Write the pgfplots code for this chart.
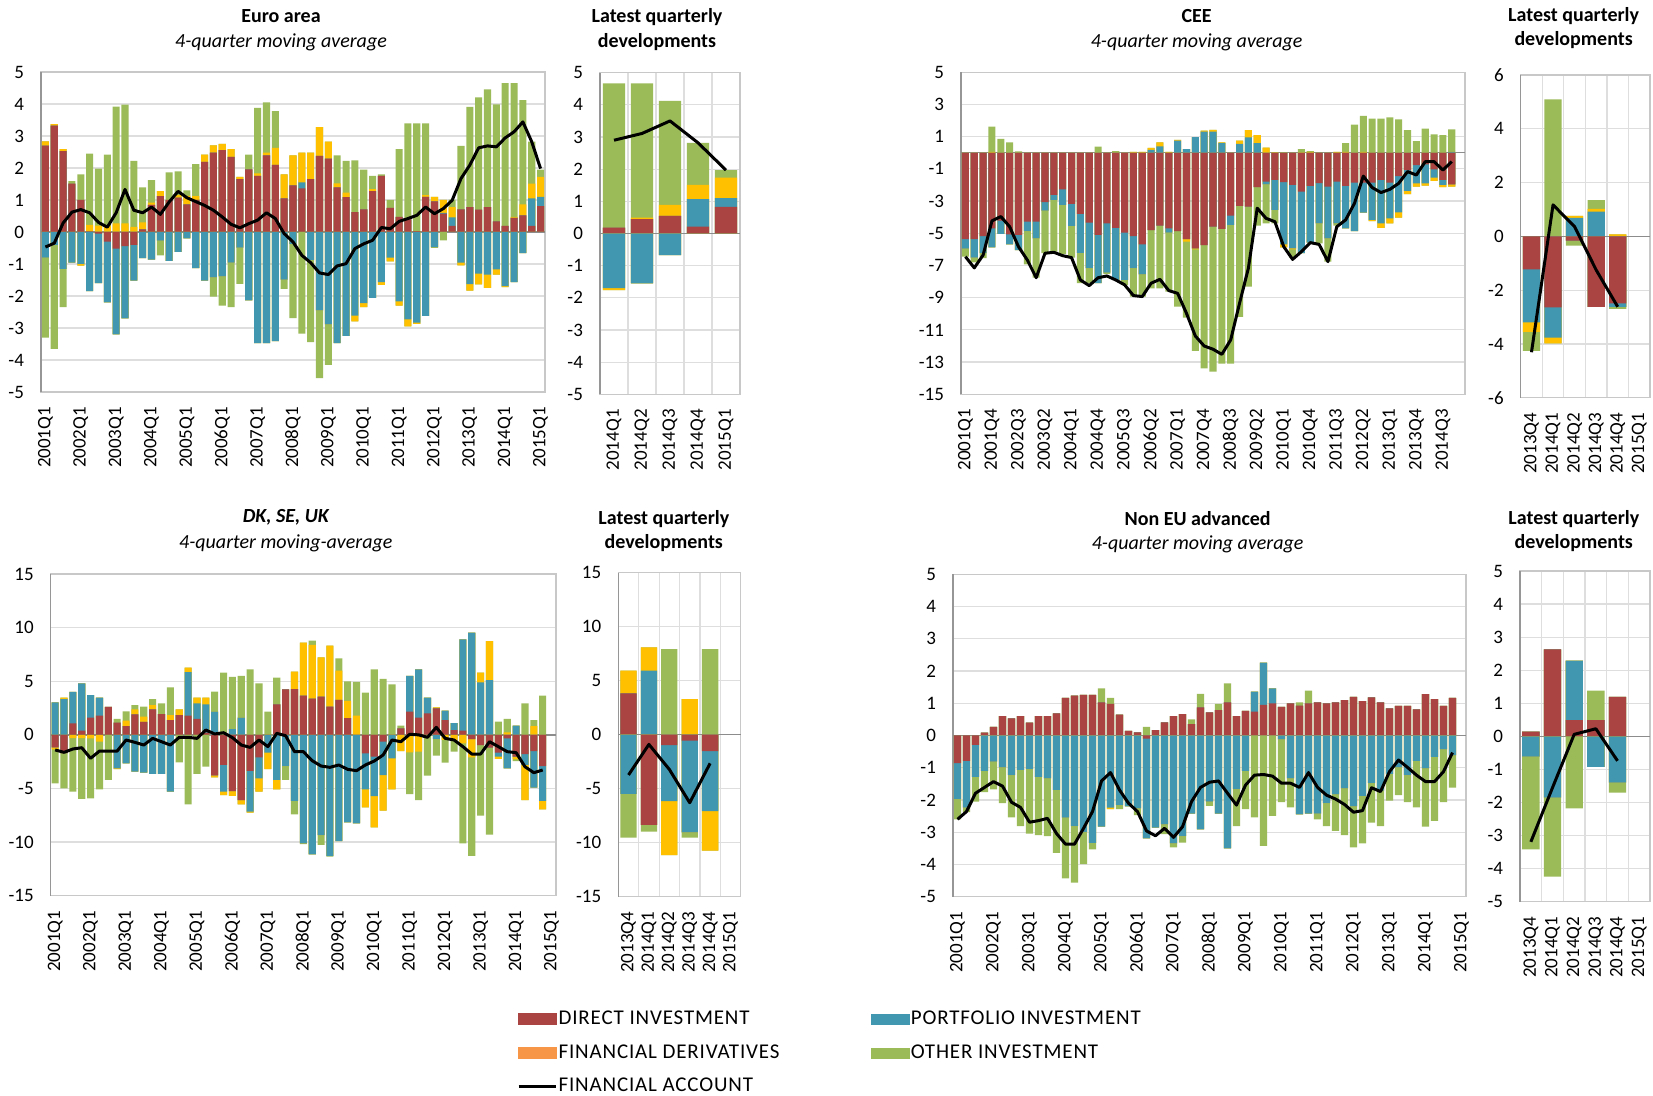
\documentclass[border=0pt]{standalone}
\usepackage{fontspec}
\setmainfont{Carlito}
\usepackage{pgfplots}
\usepackage{pgfplotstable}
\pgfplotsset{compat=1.18}

\definecolor{cDI}{RGB}{169,68,66}
\definecolor{cPI}{RGB}{66,151,176}
\definecolor{cFD}{RGB}{255,192,0}
\definecolor{cFDleg}{RGB}{247,150,70}
\definecolor{cOI}{RGB}{155,187,89}
\definecolor{cgrid}{RGB}{222,222,222}
\definecolor{caxis}{RGB}{200,200,200}
\definecolor{cleft}{RGB}{150,150,150}
\definecolor{czero}{RGB}{140,140,140}

% x DI PI FD OI FA
\pgfplotstableread{
x DI PI FD OI FA
0 2.70 -0.80 0.13 -2.50 -0.47
1 3.32 -0.40 0.05 -3.25 -0.35
2 2.53 -1.15 0.06 -1.20 0.28
3 1.51 -0.96 0 0.08 0.62
4 1.00 -1.00 -0.05 0.80 0.70
5 0.02 -1.85 0.20 2.23 0.60
6 -0.05 -1.55 0.20 1.78 0.30
7 -0.30 -1.90 0.20 2.22 0.15
8 -0.52 -2.68 0.27 3.65 0.60
9 -0.44 -2.26 0.27 3.71 1.33
10 -0.40 -1.12 0.16 2.06 0.68
11 0.08 -0.82 0.22 1.09 0.60
12 0.85 -0.86 0.07 0.70 0.78
13 1.12 -0.27 0.16 -0.46 0.55
14 1.00 -0.90 0 0.86 0.94
15 1.07 -0.62 0.08 0.74 1.27
16 0.86 -0.20 0.27 0.17 1.07
17 1.00 -1.13 0.12 1.00 0.95
18 2.19 -1.52 0.23 0 0.83
19 2.48 -1.42 0.23 -0.60 0.68
20 2.56 -1.39 0.19 -0.91 0.47
21 2.35 -0.96 0.24 -1.39 0.24
22 1.65 -0.49 0.07 -1.13 0.13
23 1.96 -2.14 0 0.46 0.26
24 1.75 -3.47 0.08 2.05 0.37
25 2.39 -3.47 0.09 1.57 0.60
26 2.10 -3.41 0.53 1.15 0.42
27 1.05 -1.49 0.75 -0.29 -0.05
28 1.46 -0.37 0.93 -2.32 -0.31
29 1.36 0.19 0.93 -3.18 -0.73
30 1.65 -0.87 0.83 -2.57 -0.96
31 2.38 -2.45 0.90 -2.12 -1.28
32 2.29 -2.89 0.53 -1.26 -1.33
33 1.39 -3.47 0.13 0.87 -1.06
34 1.09 -3.25 0.14 0.99 -0.99
35 0.62 -2.61 -0.18 1.62 -0.52
36 0.71 -2.22 -0.13 1.24 -0.37
37 1.28 -2.06 0.06 0.41 -0.26
38 1.75 -1.57 -0.08 0.05 0.14
39 0.75 -0.80 -0.12 0.25 0.10
40 0.47 -2.17 -0.13 2.12 0.33
41 0.39 -2.73 -0.22 3.00 0.42
42 0.03 -2.83 -0.04 3.36 0.52
43 1.10 -2.62 0.05 2.24 0.78
44 0.96 -0.47 0.14 -0.03 0.57
45 0.57 0.03 0.40 -0.26 0.73
46 0.19 0.27 0.32 0.23 0.99
47 0.71 -0.96 -0.08 1.98 1.67
48 0.78 -1.63 -0.20 3.13 2.09
49 0.70 -1.30 -0.34 3.51 2.63
50 0.78 -1.33 -0.42 3.68 2.69
51 0.33 -1.17 -0.16 3.66 2.66
52 0.19 -1.69 -0.03 4.46 2.94
53 0.44 -1.57 0.03 4.18 3.13
54 0.52 -0.66 0.34 3.26 3.44
55 0.19 0.86 0.46 1.31 2.82
56 0.81 0.29 0.62 0.23 1.98
}\euro

\pgfplotstableread{
x DI PI FD OI FA
0 0.18 -1.70 -0.06 4.49 2.90
1 0.45 -1.55 0.04 4.18 3.11
2 0.55 -0.67 0.34 3.23 3.50
3 0.21 0.86 0.44 1.31 2.82
4 0.83 0.27 0.64 0.23 1.97
}\eurolast

\pgfplotstableread{
x DI PI FD OI FA
0 -5.37 -0.58 0 -0.50 -6.45
1 -5.37 -1.14 0 -0.30 -7.15
2 -5.17 -1.07 0 -0.31 -6.35
3 -4.69 -1.18 0.05 1.57 -4.23
4 -4.21 -0.83 0 0.86 -3.96
5 -5.07 -0.62 0 0.65 -4.59
6 -5.10 -0.94 0 0.08 -5.83
7 -4.28 -0.58 0 -2.07 -6.66
8 -4.28 -1.03 0 -2.45 -7.76
9 -3.07 -0.52 0 -2.65 -6.24
10 -2.62 -0.31 0 -3.21 -6.18
11 -2.27 -0.97 0 -3.04 -6.39
12 -3.18 -1.36 0 -1.97 -6.51
13 -3.80 -2.42 0 -1.88 -7.90
14 -4.34 -2.83 0 -0.93 -8.25
15 -5.10 -3.00 0 0.38 -7.76
16 -4.38 -3.06 0 -0.08 -7.65
17 -4.66 -3.24 0 0.10 -7.90
18 -4.96 -2.94 0 -0.30 -8.20
19 -5.17 -2.00 0.05 -1.76 -8.87
20 -5.69 -1.86 0.05 -1.38 -8.93
21 -4.80 0.18 0.12 -3.62 -8.10
22 -4.52 0.40 0.25 -3.90 -7.86
23 -4.69 -0.27 0.05 -3.66 -8.56
24 -4.86 0.75 0.05 -4.69 -8.73
25 -5.37 0.22 -0.15 -4.72 -9.97
26 -5.93 0.98 -0.07 -6.30 -11.38
27 -5.73 1.32 0.06 -7.66 -12.00
28 -4.59 1.32 0.10 -9.00 -12.20
29 -4.73 0.60 0.05 -8.37 -12.52
30 -3.90 -0.58 0 -8.62 -11.62
31 -3.30 0.55 0.20 -6.89 -9.35
32 -3.34 0.95 0.45 -4.97 -7.17
33 -2.14 0.60 0.50 -2.38 -3.44
34 -1.79 -0.17 0.32 -2.42 -4.07
35 -1.69 -1.86 0.03 -0.83 -4.28
36 -1.83 -3.86 -0.18 0.03 -5.83
37 -2.00 -3.93 -0.07 -0.51 -6.62
38 -2.41 -3.83 0.03 0.20 -6.14
39 -2.06 -3.52 0.05 0.05 -5.58
40 -1.89 -2.49 0 -1.24 -5.69
41 -2.10 -3.21 0 -1.45 -6.76
42 -1.79 -2.59 0.05 -0.14 -4.59
43 -2.06 -2.63 0.05 0.55 -4.17
44 -1.85 -3.01 0 1.75 -3.14
45 -1.85 -1.87 0.05 2.25 -1.45
46 -1.85 -2.32 -0.07 2.12 -2.16
47 -1.69 -2.69 -0.28 2.12 -2.47
48 -1.85 -2.22 -0.31 2.20 -2.27
49 -1.45 -2.25 -0.33 2.08 -1.90
50 -1.07 -1.30 -0.19 1.40 -1.17
51 -0.76 -1.14 -0.20 0.73 -1.38
52 -0.72 -1.18 -0.14 1.50 -0.55
53 -1.03 -0.51 -0.21 1.15 -0.55
54 -1.69 -0.31 -0.14 1.10 -1.07
55 -1.96 0.05 -0.14 1.40 -0.55
}\cee

\pgfplotstableread{
x DI PI FD OI FA
0 -1.23 -1.97 -0.35 -0.71 -4.31
1 -2.64 -1.13 -0.21 5.09 1.17
2 -0.16 0.69 0.07 -0.19 0.36
3 -2.62 0.92 0.10 0.33 -1.25
4 -2.49 -0.13 0.07 -0.08 -2.62
}\ceelast

\pgfplotstableread{
x DI PI FD OI FA
0 -1.17 3.03 -0.18 -3.17 -1.41
1 -1.70 3.34 0.13 -3.30 -1.63
2 1.07 2.94 -0.30 -5.00 -1.32
3 0.39 4.41 -0.30 -5.68 -1.20
4 1.60 2.11 -0.33 -5.59 -2.19
5 1.79 1.68 -0.64 -4.44 -1.51
6 2.60 0 0 -4.21 -1.51
7 1.13 -3.12 -0.08 0.35 -1.51
8 0.82 -2.66 0.50 0.87 -0.48
9 1.91 -3.43 0.47 0.40 -0.70
10 1.20 -3.53 0.49 0.93 -0.95
11 2.38 -3.65 0.40 0.56 -0.33
12 1.94 -3.65 0 1.00 -0.64
13 1.38 -5.30 0.47 2.58 -0.95
14 1.85 0 0.53 -2.56 -0.23
15 1.79 4.07 0.40 -6.48 -0.23
16 1.48 1.46 0.53 -3.65 -0.33
17 0.20 2.64 0.63 -2.97 0.45
18 -3.78 2.16 -0.18 1.87 0.08
19 -2.81 -2.49 -0.31 5.80 0.20
20 -5.24 0.54 -0.46 4.86 -0.26
21 -6.08 1.60 -0.40 3.90 -0.95
22 -3.37 -3.80 -0.09 6.11 -1.17
23 -2.10 -1.96 -1.24 4.80 -0.48
24 0 -1.66 -1.53 2.16 -1.10
25 2.84 -4.21 -0.87 2.49 0.14
26 4.24 -2.91 0 -1.30 -0.08
27 4.27 -6.15 1.62 -1.26 -1.57
28 3.65 -10.13 4.94 -0.07 -1.57
29 3.37 -11.14 5.01 0.40 -2.41
30 3.56 -9.34 3.67 -0.93 -2.91
31 2.63 -11.28 5.69 -0.07 -3.03
32 3.25 -9.90 2.73 1.15 -2.81
33 1.57 -8.16 1.59 1.83 -3.22
34 0 -8.25 1.79 3.14 -3.34
35 -1.73 -3.35 -1.68 3.93 -2.81
36 -2.04 -3.68 -2.91 6.11 -2.44
37 -0.64 -3.11 -3.32 5.21 -1.88
38 0 -2.19 -2.89 4.71 -0.48
39 0.61 0 -1.51 0.24 -0.64
40 2.16 3.33 -1.63 -3.89 0.05
41 1.60 4.51 -1.57 -4.51 0.00
42 2.00 1.47 0 -3.81 -0.23
43 2.47 -0.39 0.09 -1.55 0.70
44 1.38 0.87 -0.48 -2.12 -0.33
45 0.45 0.65 -0.54 -1.03 -0.48
46 0.39 8.51 -0.79 -9.33 -1.10
47 -0.39 9.53 -1.71 -9.18 -1.79
48 -0.95 4.90 0.90 -6.59 -1.79
49 -1.20 5.11 3.64 -8.10 -0.64
50 -1.66 -0.38 -0.21 1.23 -1.10
51 -0.33 -2.79 0.23 1.25 -1.57
52 -2.04 0.85 -0.24 -0.16 -1.66
53 -1.79 -1.02 -3.27 2.94 -2.97
54 -1.51 -3.42 0.82 0.56 -3.53
55 -2.91 -3.24 -0.80 3.65 -3.28
}\dk

\pgfplotstableread{
x DI PI FD OI FA
0 3.83 -5.49 2.10 -4.05 -3.73
1 -8.36 5.93 2.16 -0.62 -0.90
2 -0.96 -5.18 -5.00 7.93 -3.21
3 -0.56 -8.48 3.30 -0.50 -6.30
4 -1.51 -5.56 -3.67 7.93 -2.65
}\dklast

\pgfplotstableread{
x DI PI FD OI FA
0 -0.86 -1.11 0 -0.63 -2.60
1 -0.79 -1.45 0 -0.14 -2.36
2 -0.29 -0.99 0 -0.77 -1.79
3 0.09 -1.10 0 -0.66 -1.61
4 0.27 -0.81 0 -0.86 -1.43
5 0.60 -0.99 0 -1.11 -1.57
6 0.53 -1.23 0 -1.31 -2.07
7 0.60 -1.07 0 -1.74 -2.23
8 0.40 -1.04 0 -2.00 -2.69
9 0.60 -1.28 0 -1.81 -2.64
10 0.60 -1.33 0 -1.79 -2.57
11 0.69 -1.69 0 -1.95 -3.04
12 1.17 -2.55 0 -1.88 -3.37
13 1.24 -2.81 0 -1.75 -3.37
14 1.26 -3.00 0 -0.99 -2.88
15 1.26 -3.33 0 -0.20 -2.36
16 1.03 -2.83 0 0.43 -1.41
17 0.98 -2.24 -0.04 0.19 -1.15
18 0.65 -2.16 0 -0.12 -1.69
19 0.14 -2.20 0 0 -2.10
20 0.10 -2.26 0 -0.21 -2.36
21 -0.10 -3.09 0 0.27 -2.96
22 0.17 -2.86 0 0 -3.11
23 0.41 -2.76 0 -0.30 -2.88
24 0.60 -3.35 0 -0.12 -3.16
25 0.66 -3.12 0 -0.20 -2.83
26 0.35 -2.42 0 0.15 -2.05
27 0.87 -2.91 0 0.42 -1.61
28 0.72 -2.05 0 -0.13 -1.45
29 0.79 -2.42 0 0.19 -1.41
30 1.03 -3.50 0 0.59 -1.79
31 0.60 -1.66 0 -1.15 -2.16
32 0.76 -1.10 0 -1.18 -1.54
33 0.74 0.62 0 -2.54 -1.23
34 0.95 1.31 0 -3.42 -1.21
35 1.00 0.46 0 -2.49 -1.26
36 0.89 -0.12 0 -1.95 -1.48
37 1.00 -1.33 0 -0.90 -1.48
38 0.93 -2.45 0 0.10 -1.61
39 1.00 -2.42 0 0.39 -1.15
40 1.03 -2.42 0 -0.18 -1.61
41 1.00 -2.10 0 -0.71 -1.85
42 1.03 -1.83 0 -1.13 -1.97
43 1.10 -1.64 0 -1.45 -2.14
44 1.20 -2.20 0 -1.27 -2.38
45 1.07 -1.87 0 -1.48 -2.33
46 1.18 -1.48 0 -1.22 -1.62
47 1.03 -1.71 0 -1.10 -1.74
48 0.84 -1.19 0 -0.83 -1.12
49 0.92 -0.99 0 -0.86 -0.76
50 0.92 -1.23 0 -0.84 -0.99
51 0.81 -0.79 0 -1.44 -1.23
52 1.28 -1.02 0 -1.81 -1.43
53 1.13 -0.66 0 -1.99 -1.43
54 0.92 -0.43 0 -1.64 -1.12
55 1.17 -0.62 0 -1.00 -0.53
}\noneu

\pgfplotstableread{
x DI PI FD OI FA
0 0.14 -0.61 0 -2.81 -3.19
1 2.63 -1.85 0 -2.39 -1.55
2 0.49 1.80 0 -2.18 0.06
3 0.49 -0.92 0 0.89 0.23
4 1.19 -1.40 0 -0.30 -0.74
}\noneulast

\newcommand\stackedbars[1]{%
  \addplot[ybar, bar shift=0pt, fill=cOI, draw=none] table[x=x, y expr={max(\thisrow{DI},0)+max(\thisrow{PI},0)+max(\thisrow{FD},0)+max(\thisrow{OI},0)}] {#1};
  \addplot[ybar, bar shift=0pt, fill=cFD, draw=none] table[x=x, y expr={max(\thisrow{DI},0)+max(\thisrow{PI},0)+max(\thisrow{FD},0)}] {#1};
  \addplot[ybar, bar shift=0pt, fill=cPI, draw=none] table[x=x, y expr={max(\thisrow{DI},0)+max(\thisrow{PI},0)}] {#1};
  \addplot[ybar, bar shift=0pt, fill=cDI, draw=none] table[x=x, y expr={max(\thisrow{DI},0)}] {#1};
  \addplot[ybar, bar shift=0pt, fill=cOI, draw=none] table[x=x, y expr={min(\thisrow{DI},0)+min(\thisrow{PI},0)+min(\thisrow{FD},0)+min(\thisrow{OI},0)}] {#1};
  \addplot[ybar, bar shift=0pt, fill=cFD, draw=none] table[x=x, y expr={min(\thisrow{DI},0)+min(\thisrow{PI},0)+min(\thisrow{FD},0)}] {#1};
  \addplot[ybar, bar shift=0pt, fill=cPI, draw=none] table[x=x, y expr={min(\thisrow{DI},0)+min(\thisrow{PI},0)}] {#1};
  \addplot[ybar, bar shift=0pt, fill=cDI, draw=none] table[x=x, y expr={min(\thisrow{DI},0)}] {#1};
  \addplot[black, line width=1.5pt, line join=round, mark=none] table[x=x, y=FA] {#1};
}

\pgfplotsset{
  panel/.style={
    scale only axis, anchor=south west,
    ymajorgrids, major grid style={draw=cgrid, line width=0.6pt},
    axis line style={draw=caxis, line width=0.6pt},
    major tick length=0pt, minor tick length=0pt,
    tick label style={font=\fontsize{9.5}{11}\selectfont},
    xticklabel style={rotate=90, anchor=east},
    xticklabel shift=4pt, yticklabel shift=5pt,
    /pgf/number format/assume math mode=true,
    bar width=0.8,
    extra y ticks={0}, extra y tick labels={},
    extra y tick style={grid=major, major grid style={draw=czero, line width=0.7pt}},
    extra x ticks={-0.5}, extra x tick labels={},
    extra x tick style={grid=major, major grid style={draw=cleft, line width=0.7pt}},
  },
  smallpanel/.style={panel,
    xminorgrids, minor grid style={draw=cgrid, line width=0.6pt},
  },
}

\begin{document}
\begin{tikzpicture}[x=1pt,y=1pt]
\path[use as bounding box] (0,0) rectangle (826.5,548);

% titles
\tikzset{ttl/.style={font=\bfseries\fontsize{10}{12}\selectfont}, sub/.style={font=\itshape\fontsize{10}{12}\selectfont}}
\node[ttl] at (140.5,540.1) {Euro area};
\node[sub] at (140.5,527) {4-quarter moving average};
\node[ttl] at (328.5,539.5) {Latest quarterly};
\node[ttl] at (328.5,527) {developments};
\node[ttl] at (598.3,540.1) {CEE};
\node[sub] at (598.3,527) {4-quarter moving average};
\node[ttl] at (786.8,540.1) {Latest quarterly};
\node[ttl] at (786.8,528) {developments};
\node[font=\bfseries\itshape\fontsize{10}{12}\selectfont] at (142.9,289.2) {DK, SE, UK};
\node[sub] at (142.9,276.5) {4-quarter moving-average};
\node[ttl] at (331.9,288.4) {Latest quarterly};
\node[ttl] at (331.9,276.4) {developments};
\node[ttl] at (598.8,288.7) {Non EU advanced};
\node[sub] at (598.8,276) {4-quarter moving average};
\node[ttl] at (786.9,288.5) {Latest quarterly};
\node[ttl] at (786.9,276.4) {developments};

% Euro area
\begin{axis}[panel, at={(20.5pt,352pt)}, width=252pt, height=160pt,
  xmin=-0.5, xmax=56.5, ymin=-5, ymax=5, ytick={-5,...,5},
  xtick={0,4,...,56},
  xticklabels={2001Q1,2002Q1,2003Q1,2004Q1,2005Q1,2006Q1,2007Q1,2008Q1,2009Q1,2010Q1,2011Q1,2012Q1,2013Q1,2014Q1,2015Q1}]
\stackedbars{\euro}
\end{axis}
\begin{axis}[smallpanel, at={(300pt,350.85pt)}, width=70pt, height=160.8pt,
  xmin=-0.5, xmax=4.5, ymin=-5, ymax=5, ytick={-5,...,5},
  xtick={0,...,4}, minor xtick={0.5,1.5,2.5,3.5},
  xticklabels={2014Q1,2014Q2,2014Q3,2014Q4,2015Q1}]
\stackedbars{\eurolast}
\end{axis}

% CEE
\begin{axis}[panel, at={(480.5pt,350.85pt)}, width=252pt, height=161pt,
  xmin=-0.5, xmax=56.5, ymin=-15, ymax=5, ytick={-15,-13,...,5},
  xtick={0,3,...,54},
  xticklabels={2001Q1,2001Q4,2002Q3,2003Q2,2004Q1,2004Q4,2005Q3,2006Q2,2007Q1,2007Q4,2008Q3,2009Q2,2010Q1,2010Q4,2011Q3,2012Q2,2013Q1,2013Q4,2014Q3}]
\stackedbars{\cee}
\end{axis}
\begin{axis}[smallpanel, at={(760.35pt,349.15pt)}, width=64.65pt, height=161.35pt,
  xmin=-0.5, xmax=5.5, ymin=-6, ymax=6, ytick={-6,-4,...,6},
  xtick={0,...,5}, minor xtick={0.5,1.5,2.5,3.5,4.5},
  xticklabels={2013Q4,2014Q1,2014Q2,2014Q3,2014Q4,2015Q1}]
\stackedbars{\ceelast}
\end{axis}

% DK SE UK
\begin{axis}[panel, at={(25.35pt,100.15pt)}, width=252.65pt, height=160.85pt,
  xmin=-0.5, xmax=56.5, ymin=-15, ymax=15, ytick={-15,-10,...,15},
  xtick={0,4,...,56},
  xticklabels={2001Q1,2002Q1,2003Q1,2004Q1,2005Q1,2006Q1,2007Q1,2008Q1,2009Q1,2010Q1,2011Q1,2012Q1,2013Q1,2014Q1,2015Q1}]
\stackedbars{\dk}
\end{axis}
\begin{axis}[smallpanel, at={(309.15pt,99.65pt)}, width=61.2pt, height=162pt,
  xmin=-0.5, xmax=5.5, ymin=-15, ymax=15, ytick={-15,-10,...,15},
  xtick={0,...,5}, minor xtick={0.5,1.5,2.5,3.5,4.5},
  xticklabels={2013Q4,2014Q1,2014Q2,2014Q3,2014Q4,2015Q1}]
\stackedbars{\dklast}
\end{axis}

% Non EU advanced
\begin{axis}[panel, at={(476.5pt,99.65pt)}, width=256.5pt, height=161.2pt,
  xmin=-0.5, xmax=56.5, ymin=-5, ymax=5, ytick={-5,...,5},
  xtick={0,4,...,56},
  xticklabels={2001Q1,2002Q1,2003Q1,2004Q1,2005Q1,2006Q1,2007Q1,2008Q1,2009Q1,2010Q1,2011Q1,2012Q1,2013Q1,2014Q1,2015Q1}]
\stackedbars{\noneu}
\end{axis}
\begin{axis}[smallpanel, at={(760pt,97.15pt)}, width=65pt, height=165.35pt,
  xmin=-0.5, xmax=5.5, ymin=-5, ymax=5, ytick={-5,...,5},
  xtick={0,...,5}, minor xtick={0.5,1.5,2.5,3.5,4.5},
  xticklabels={2013Q4,2014Q1,2014Q2,2014Q3,2014Q4,2015Q1}]
\stackedbars{\noneulast}
\end{axis}

% legend
\pgfplotsset{legax/.style={anchor=south west, width=1pt, height=1pt, scale only axis, hide axis,
   xmin=0, xmax=1, ymin=0, ymax=1, legend cell align=left,
   legend style={at={(0,0)}, anchor=west, draw=none, fill=none, inner sep=0pt,
     row sep=7.4pt, font=\fontsize{10.5}{12}\selectfont\addfontfeatures{LetterSpace=4}, nodes={inner sep=0.6pt}}}}
\begin{axis}[legax, at={(258.3pt,21.6pt)}]
\addlegendimage{legend image code/.code={\fill[cDI] (0pt,-2.65pt) rectangle (18.7pt,2.65pt);}}
\addlegendentry{DIRECT INVESTMENT}
\addlegendimage{legend image code/.code={\fill[cFDleg] (0pt,-2.65pt) rectangle (18.7pt,2.65pt);}}
\addlegendentry{FINANCIAL DERIVATIVES}
\addlegendimage{legend image code/.code={\draw[black, line width=1.5pt] (0pt,0pt) -- (18.7pt,0pt);}}
\addlegendentry{FINANCIAL ACCOUNT}
\end{axis}
\begin{axis}[legax, at={(435.5pt,29.8pt)}]
\addlegendimage{legend image code/.code={\fill[cPI] (0pt,-2.65pt) rectangle (18.7pt,2.65pt);}}
\addlegendentry{PORTFOLIO INVESTMENT}
\addlegendimage{legend image code/.code={\fill[cOI] (0pt,-2.65pt) rectangle (18.7pt,2.65pt);}}
\addlegendentry{OTHER INVESTMENT}
\end{axis}
\end{tikzpicture}
\end{document}
